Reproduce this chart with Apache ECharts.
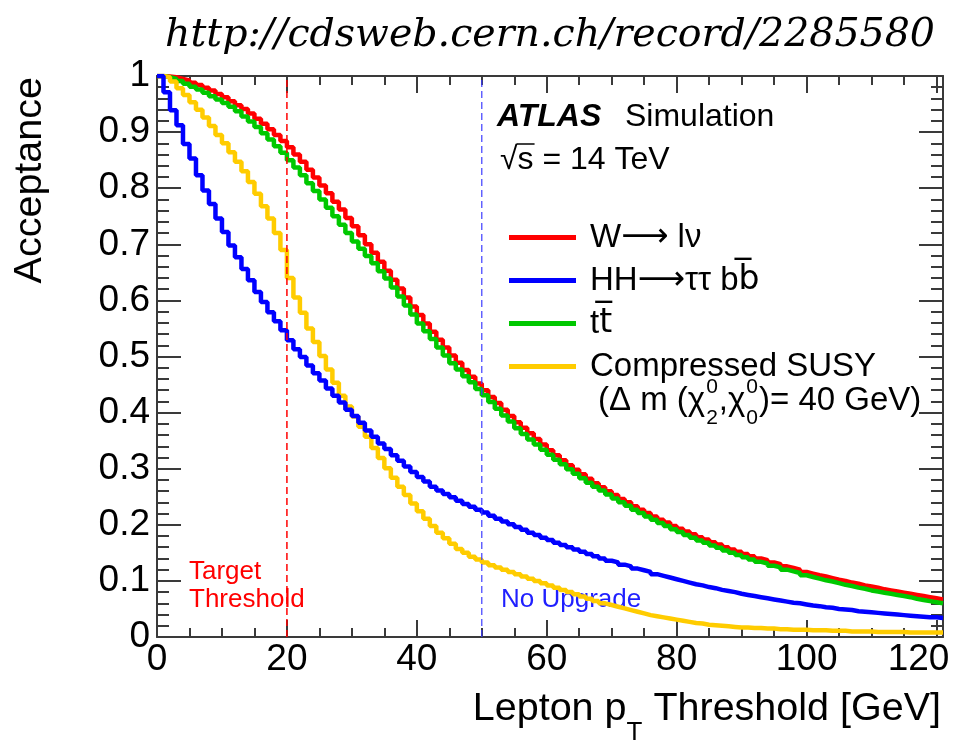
<!DOCTYPE html>
<html><head><meta charset="utf-8">
<script src="https://cdn.jsdelivr.net/npm/echarts@6/dist/echarts.min.js"></script>
<style>html,body{margin:0;padding:0;background:#fff}#c{width:973px;height:744px}</style>
</head><body><div id="c"></div>
<script>
// ---- data (acceptance per 1 GeV bin, bin low edges 0..120) ----
const wlnu = [1.000,0.999,0.998,0.995,0.992,0.988,0.984,0.979,0.974,0.968,
 0.962,0.955,0.948,0.941,0.933,0.924,0.915,0.905,0.895,0.884,
 0.873,0.860,0.847,0.833,0.819,0.805,0.791,0.776,0.762,0.747,
 0.732,0.716,0.700,0.685,0.669,0.653,0.637,0.621,0.605,0.589,
 0.574,0.559,0.544,0.530,0.516,0.502,0.489,0.476,0.464,0.452,
 0.440,0.428,0.417,0.405,0.394,0.383,0.373,0.363,0.353,0.343,
 0.333,0.324,0.315,0.306,0.298,0.290,0.282,0.274,0.267,0.260,
 0.253,0.246,0.240,0.233,0.227,0.221,0.215,0.209,0.204,0.198,
 0.193,0.188,0.183,0.178,0.174,0.169,0.165,0.160,0.156,0.152,
 0.148,0.144,0.140,0.137,0.133,0.130,0.126,0.123,0.120,0.116,
 0.113,0.110,0.108,0.105,0.102,0.100,0.097,0.095,0.092,0.090,
 0.088,0.085,0.083,0.081,0.079,0.077,0.075,0.073,0.071,0.069,
 0.067];
const hhttbb = [1.000,0.971,0.939,0.912,0.879,0.853,0.823,0.796,0.772,0.746,
 0.722,0.698,0.677,0.656,0.636,0.615,0.597,0.579,0.563,0.547,
 0.529,0.513,0.499,0.484,0.470,0.457,0.443,0.430,0.418,0.405,
 0.394,0.382,0.368,0.357,0.345,0.335,0.324,0.314,0.304,0.294,
 0.285,0.277,0.268,0.261,0.255,0.249,0.243,0.237,0.232,0.227,
 0.222,0.216,0.211,0.206,0.201,0.196,0.191,0.186,0.182,0.177,
 0.173,0.168,0.164,0.160,0.156,0.152,0.148,0.144,0.140,0.136,
 0.133,0.129,0.126,0.122,0.119,0.116,0.112,0.109,0.106,0.103,
 0.100,0.097,0.094,0.092,0.089,0.087,0.084,0.082,0.080,0.077,
 0.075,0.073,0.071,0.069,0.067,0.065,0.063,0.061,0.060,0.058,
 0.056,0.055,0.053,0.052,0.050,0.049,0.048,0.046,0.045,0.044,
 0.043,0.042,0.041,0.040,0.039,0.038,0.037,0.036,0.035,0.035,
 0.034];
const ttbar = [1.000,0.998,0.995,0.991,0.986,0.981,0.976,0.970,0.964,0.958,
 0.952,0.945,0.937,0.928,0.919,0.909,0.898,0.887,0.875,0.863,
 0.850,0.837,0.823,0.809,0.795,0.780,0.765,0.750,0.735,0.720,
 0.705,0.692,0.679,0.666,0.652,0.639,0.623,0.607,0.591,0.575,
 0.559,0.545,0.531,0.516,0.502,0.488,0.477,0.465,0.454,0.442,
 0.431,0.419,0.407,0.395,0.384,0.372,0.362,0.352,0.343,0.334,
 0.325,0.316,0.308,0.299,0.291,0.283,0.275,0.268,0.261,0.254,
 0.247,0.240,0.234,0.227,0.221,0.215,0.209,0.203,0.198,0.192,
 0.187,0.182,0.177,0.172,0.168,0.163,0.159,0.154,0.150,0.146,
 0.142,0.138,0.134,0.131,0.127,0.124,0.120,0.117,0.114,0.110,
 0.107,0.104,0.101,0.099,0.096,0.093,0.091,0.088,0.086,0.083,
 0.081,0.079,0.077,0.075,0.073,0.071,0.068,0.066,0.064,0.062,
 0.060];
const susy = [1.000,0.998,0.990,0.978,0.966,0.953,0.940,0.926,0.911,0.895,
 0.880,0.864,0.847,0.830,0.811,0.790,0.768,0.746,0.720,0.690,
 0.640,0.605,0.578,0.550,0.526,0.501,0.477,0.453,0.430,0.411,
 0.393,0.375,0.357,0.337,0.319,0.301,0.284,0.268,0.253,0.238,
 0.224,0.211,0.198,0.186,0.176,0.166,0.157,0.150,0.143,0.138,
 0.133,0.128,0.124,0.120,0.116,0.112,0.108,0.104,0.100,0.096,
 0.092,0.088,0.084,0.080,0.076,0.072,0.068,0.064,0.060,0.057,
 0.054,0.051,0.048,0.045,0.042,0.039,0.037,0.035,0.033,0.031,
 0.029,0.027,0.025,0.024,0.022,0.021,0.020,0.019,0.018,0.017,
 0.017,0.016,0.016,0.015,0.015,0.014,0.014,0.013,0.013,0.013,
 0.012,0.012,0.012,0.011,0.011,0.011,0.010,0.010,0.010,0.010,
 0.009,0.009,0.009,0.009,0.009,0.008,0.008,0.008,0.008,0.008,
 0.008];
const seriesNames = ['W\u2192 l\u03bd', 'HH\u2192\u03c4\u03c4 bb', 'tt', 'Compressed SUSY'];
const xMajorTicks = [0, 20, 40, 60, 80, 100, 120];
const xMinorStep = 5;
const xMax = 121;
const thresholds = [20, 50];
const thresholdLabels = ['Target\nThreshold', 'No Upgrade'];
const titleUrl = 'http://cdsweb.cern.ch/record/2285580';

// ---- helpers ----
const ctx = document.createElement('canvas').getContext('2d');
function tw(font, s) { ctx.font = font; return ctx.measureText(s).width; }
function hist(vals) { const d = vals.map((v, i) => [i, v]); d.push([vals.length, vals[vals.length - 1]]); return d; }
const xMinorTicks = [];
for (let v = 0; v <= 120; v += xMinorStep) if (xMajorTicks.indexOf(v) < 0) xMinorTicks.push(v);

const FF = '"Liberation Sans", Arial, sans-serif';
const AX = '#3a3a3a';
const G = { left: 157, right: 30, top: 76, bottom: 107, outerBoundsMode: 'none' };

const chart = echarts.init(document.getElementById('c'), null, { renderer: 'canvas' });

function xAx(grid, pos, ticks, len, labels, line) {
  return {
    type: 'value', gridIndex: grid, position: pos, min: 0, max: xMax,
    axisLine: { show: line, onZero: false, lineStyle: { color: AX, width: 2 } },
    axisTick: { show: true, inside: true, length: len, customValues: ticks, lineStyle: { color: AX, width: 2 } },
    minorTick: { show: false },
    axisLabel: labels ? {
      show: true, customValues: xMajorTicks, fontSize: 37, fontFamily: FF, color: '#000', margin: 4,
      formatter: v => v === 120 ? '{r|120}' : String(v),
      rich: { r: { fontSize: 37, fontFamily: FF, color: '#000', padding: [0, 36, 0, 0] } }
    } : { show: false },
    splitLine: { show: false }
  };
}
function yAx(pos, labels) {
  return {
    type: 'value', gridIndex: 0, position: pos, min: 0, max: 1, interval: 0.1,
    axisLine: { show: true, onZero: false, lineStyle: { color: AX, width: 2 } },
    axisTick: { show: true, inside: true, length: 24, lineStyle: { color: AX, width: 2 } },
    minorTick: { show: true, splitNumber: 5, length: 12, lineStyle: { color: AX, width: 2 } },
    axisLabel: labels ? {
      show: true, fontSize: 37, fontFamily: FF, color: '#000', margin: 7,
      formatter: v => (Math.abs(v) < 1e-9 ? '0' : Math.abs(v - 1) < 1e-9 ? '1' : v.toFixed(1))
    } : { show: false },
    splitLine: { show: false }
  };
}

function line(name, vals, color, z) {
  return {
    type: 'line', name: name, xAxisIndex: 0, yAxisIndex: 0, data: hist(vals), step: 'end',
    showSymbol: false, symbol: 'none', color: color, z: z,
    lineStyle: { color: color, width: 4.5 }, emphasis: { disabled: true }, silent: true
  };
}
function vline(x, color, width) {
  return {
    type: 'line', xAxisIndex: 0, yAxisIndex: 0, data: [[x, 0], [x, 1]], showSymbol: false, symbol: 'none',
    lineStyle: { color: color, width: width, type: [7, 4] }, z: 10, silent: true, emphasis: { disabled: true }
  };
}

// ---- text pieces ----
const graphics = [];
// URL title
(function () {
  const base = 'italic 38px "DejaVu Serif"';
  const w = tw(base, titleUrl);
  const fs = 38 * 770 / w;
  graphics.push({ type: 'text', x: 550, y: 36, style: { text: titleUrl, font: 'italic ' + fs.toFixed(2) + 'px "DejaVu Serif"', fill: '#000', align: 'center', verticalAlign: 'middle' } });
})();
// y-axis title
graphics.push({ type: 'text', x: 30, y: 77, rotation: Math.PI / 2, style: { text: 'Acceptance', font: '39.5px ' + FF, fill: '#000', align: 'right', verticalAlign: 'middle' } });
// x-axis title
(function () {
  const F = '39.5px ' + FF, FS = '26px ' + FF;
  const a = 'Lepton p', t = 'T', b = ' Threshold [GeV]';
  const wa = tw(F, a), wt = tw(FS, t), wb = tw(F, b);
  let x = 941 - (wa + wt + wb);
  graphics.push({ type: 'text', x: x, y: 709, style: { text: a, font: F, fill: '#000', align: 'left', verticalAlign: 'middle' } });
  graphics.push({ type: 'text', x: x + wa, y: 733, style: { text: t, font: FS, fill: '#000', align: 'left', verticalAlign: 'middle' } });
  graphics.push({ type: 'text', x: x + wa + wt, y: 709, style: { text: b, font: F, fill: '#000', align: 'left', verticalAlign: 'middle' } });
})();
// ATLAS Simulation
graphics.push({ type: 'text', x: 497, y: 117, style: { text: 'ATLAS', font: 'italic bold 32px ' + FF, fill: '#000', align: 'left', verticalAlign: 'middle' } });
graphics.push({ type: 'text', x: 625, y: 117, style: { text: 'Simulation', font: '32px ' + FF, fill: '#000', align: 'left', verticalAlign: 'middle' } });
// sqrt(s) = 14 TeV
(function () {
  const F = '32px ' + FF;
  const r = '\u221a', s = 's', rest = ' = 14 TeV';
  const x0 = 500, wr = tw(F, r), ws = tw(F, s);
  graphics.push({ type: 'text', x: x0, y: 160, style: { text: r, font: F, fill: '#000', align: 'left', verticalAlign: 'middle' } });
  graphics.push({ type: 'text', x: x0 + wr, y: 160, style: { text: s, font: F, fill: '#000', align: 'left', verticalAlign: 'middle' } });
  graphics.push({ type: 'line', shape: { x1: x0 + wr - 1, y1: 144, x2: x0 + wr + ws + 1, y2: 144 }, style: { stroke: '#000', lineWidth: 1.5 } });
  graphics.push({ type: 'text', x: x0 + wr + ws, y: 160, style: { text: rest, font: F, fill: '#000', align: 'left', verticalAlign: 'middle' } });
})();
// (Δ m (χ20, χ00) = 40 GeV)
(function () {
  const F = '33px ' + FF, FS = '21px ' + FF;
  let x = 598; const y = 401, ySup = 387, ySub = 418;
  const put = (t, font, xx, yy) => graphics.push({ type: 'text', x: xx, y: yy, style: { text: t, font: font, fill: '#000', align: 'left', verticalAlign: 'middle' } });
  const p1 = '(\u0394 m (\u03c7';
  put(p1, F, x, y); x += tw(F, p1);
  put('0', FS, x + 1, ySup); put('2', FS, x + 1, ySub); x += tw(FS, '0') + 2;
  const p2 = ',\u03c7';
  put(p2, F, x, y); x += tw(F, p2);
  put('0', FS, x + 1, ySup); put('0', FS, x + 1, ySub); x += tw(FS, '0') + 2;
  put(')= 40 GeV)', F, x, y);
})();
// threshold annotations
graphics.push({ type: 'text', x: 189, y: 572, style: { text: 'Target', font: '26px ' + FF, fill: '#ff0000', align: 'left', verticalAlign: 'middle' } });
graphics.push({ type: 'text', x: 189, y: 600, style: { text: 'Threshold', font: '26px ' + FF, fill: '#ff0000', align: 'left', verticalAlign: 'middle' } });
graphics.push({ type: 'text', x: 501, y: 600, style: { text: thresholdLabels[1], font: '26px ' + FF, fill: '#1f1fff', align: 'left', verticalAlign: 'middle' } });

const legendRich = {
  n: { fontSize: 33, fontFamily: FF, color: '#000', lineHeight: 43 },
  a: { fontSize: 33, fontFamily: '"DejaVu Sans"', color: '#000', lineHeight: 43 },
  o: { fontSize: 33, fontFamily: '"DejaVu Sans"', color: '#000', lineHeight: 43 }
};
function legendFmt(name) {
  if (name === seriesNames[0]) return '{n|W}{a|\u27f6}{n| l\u03bd}';
  if (name === seriesNames[1]) return '{n|HH}{a|\u27f6}{n|\u03c4\u03c4 b}{o|b\u0305}';
  if (name === seriesNames[2]) return '{n|t}{o|t\u0305}';
  return '{n|' + name + '}';
}

chart.setOption({
  animation: false,
  backgroundColor: '#ffffff',
  grid: [G, Object.assign({}, G)],
  xAxis: [
    xAx(0, 'bottom', xMajorTicks, 17, true, true),
    xAx(0, 'top', xMajorTicks, 17, false, true),
    xAx(1, 'bottom', xMinorTicks, 9, false, false),
    xAx(1, 'top', xMinorTicks, 9, false, false)
  ],
  yAxis: [yAx('left', true), yAx('right', false),
    { type: 'value', gridIndex: 1, min: 0, max: 1, show: false }],
  legend: {
    data: seriesNames, orient: 'vertical', left: 509, top: 216, padding: 0, itemWidth: 67, itemHeight: 5,
    icon: 'rect', itemGap: 0, selectedMode: false, formatter: legendFmt,
    textStyle: { fontSize: 33, fontFamily: FF, color: '#000', lineHeight: 43, padding: [0, 0, 0, 9], rich: legendRich }
  },
  series: [
    line(seriesNames[0], wlnu, '#ff0000', 2),
    line(seriesNames[2], ttbar, '#00c800', 3),
    line(seriesNames[3], susy, '#ffcc00', 4),
    line(seriesNames[1], hhttbb, '#0000ff', 5),
    vline(thresholds[0], '#ff0000', 1.5),
    vline(thresholds[1], '#3b3bff', 1.2)
  ],
  graphic: graphics
});
</script></body></html>
